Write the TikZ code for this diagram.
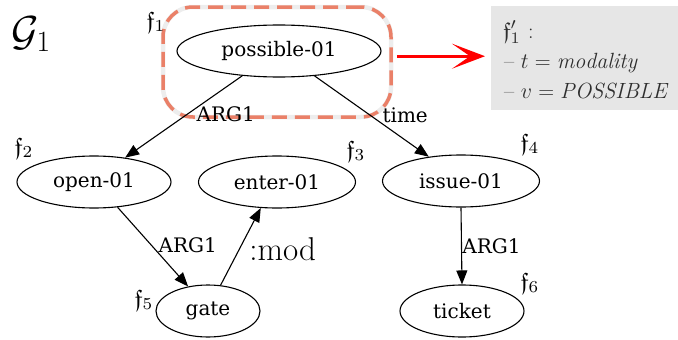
\RequirePackage{fix-cm}
\documentclass[tikz,border=0pt]{standalone}
\usepackage{amssymb}
\usepackage{fontspec}
\newfontfamily\gv{DejaVu Serif}
\usetikzlibrary{shapes.geometric,arrows.meta}
\definecolor{salmon}{RGB}{234,128,104}
\definecolor{boxgray}{RGB}{230,230,230}
\newcommand{\frf}[2][2.4]{\scalebox{#1}{$\mathfrak{f}#2$}}
\begin{document}
\begin{tikzpicture}[x=1pt,y=-1pt,
  amr/.style={ellipse, draw, line width=1.1pt, inner sep=0pt, minimum height=52pt, font=\gv\fontsize{20}{24}\selectfont},
  rel/.style={-{Triangle[length=14pt,width=11pt]}, line width=1.1pt},
  elab/.style={font=\gv\fontsize{20}{24}\selectfont, inner sep=0pt},
  flab/.style={font=\fontsize{10}{12}\selectfont, inner sep=0pt},
  boxtext/.style={font=\fontsize{22}{26}\selectfont, inner sep=0pt, anchor=base west, text=black!82},
  hlbox/.style={rounded corners=30pt, minimum width=228pt, minimum height=110pt, inner sep=0pt}]
\useasboundingbox (0,0) rectangle (678,340);
% highlight round possible-01
\node[hlbox, draw=black!7, line width=4.5pt] (hlback) at (277,62) {};
\node[hlbox, draw=salmon, line width=3.5pt, dash pattern=on 15pt off 8pt] (hl) at (277,62) {};
% nodes
\node[amr, minimum width=204pt] (poss) at (279,51) {possible-01};
\node[amr, minimum width=154pt] (open) at (94,182) {open-01};
\node[amr, minimum width=157pt] (enter) at (277,182) {enter-01};
\node[amr, minimum width=104pt] (gate) at (208,311) {gate};
\node[amr, minimum width=157pt] (issue) at (461,181) {issue-01};
\node[amr, minimum width=124pt] (ticket) at (462,311) {ticket};
% edges
\draw[rel] (poss.214) -- node[elab, xshift=42pt, yshift=2.5pt]{ARG1} (open.38);
\draw[rel] (poss.325) -- node[elab, xshift=33.5pt, yshift=1.5pt]{time} (issue.143);
\draw[rel] (open.313) -- node[elab, xshift=35pt, yshift=1.5pt]{ARG1} (gate.129);
\draw[rel] (gate.64) -- node[font=\fontsize{33}{40}\selectfont, inner sep=0pt, xshift=42pt, yshift=-3pt]{:mod} (enter.238);
\draw[rel] (issue.south) -- node[elab, xshift=30pt]{ARG1} (ticket.north);
% f labels
\node[flab] (f1) at (156,22) {\frf{_1}};
\node[flab] (f2) at (24,148) {\frf{_2}};
\node[flab] (f3) at (356,151) {\frf{_3}};
\node[flab] (f4) at (530,144) {\frf{_4}};
\node[flab] (f5) at (144,300) {\frf{_5}};
\node[flab] (f6) at (530,283) {\frf{_6}};
% graph name
\node[font=\fontsize{42}{50}\selectfont, inner sep=0pt] (g1) at (31,34) {$\mathcal{G}_1$};
% feature box
\node[fill=boxgray, minimum width=187pt, minimum height=104pt, inner sep=0pt, anchor=north west] (fbox) at (491,6) {};
\node[flab, anchor=base west, text=black!82] (l1) at (503,38) {\frf[2.3]{'_1}};
\node[boxtext] (l1c) at (528,38) {$:$};
\node[boxtext] (l2) at (504,68) {-- $t = \mathit{modality}$};
\node[boxtext] (l3) at (504,98) {-- $v = \mathit{POSSIBLE}$};
% red arrow
\draw[red, line width=3pt, -{Stealth[length=33pt,width=25pt,inset=18pt]}, shorten <=4pt, shorten >=6pt] ([yshift=2pt]hl.east |- fbox.west) -- ([yshift=2pt]fbox.west);
\end{tikzpicture}
\end{document}
